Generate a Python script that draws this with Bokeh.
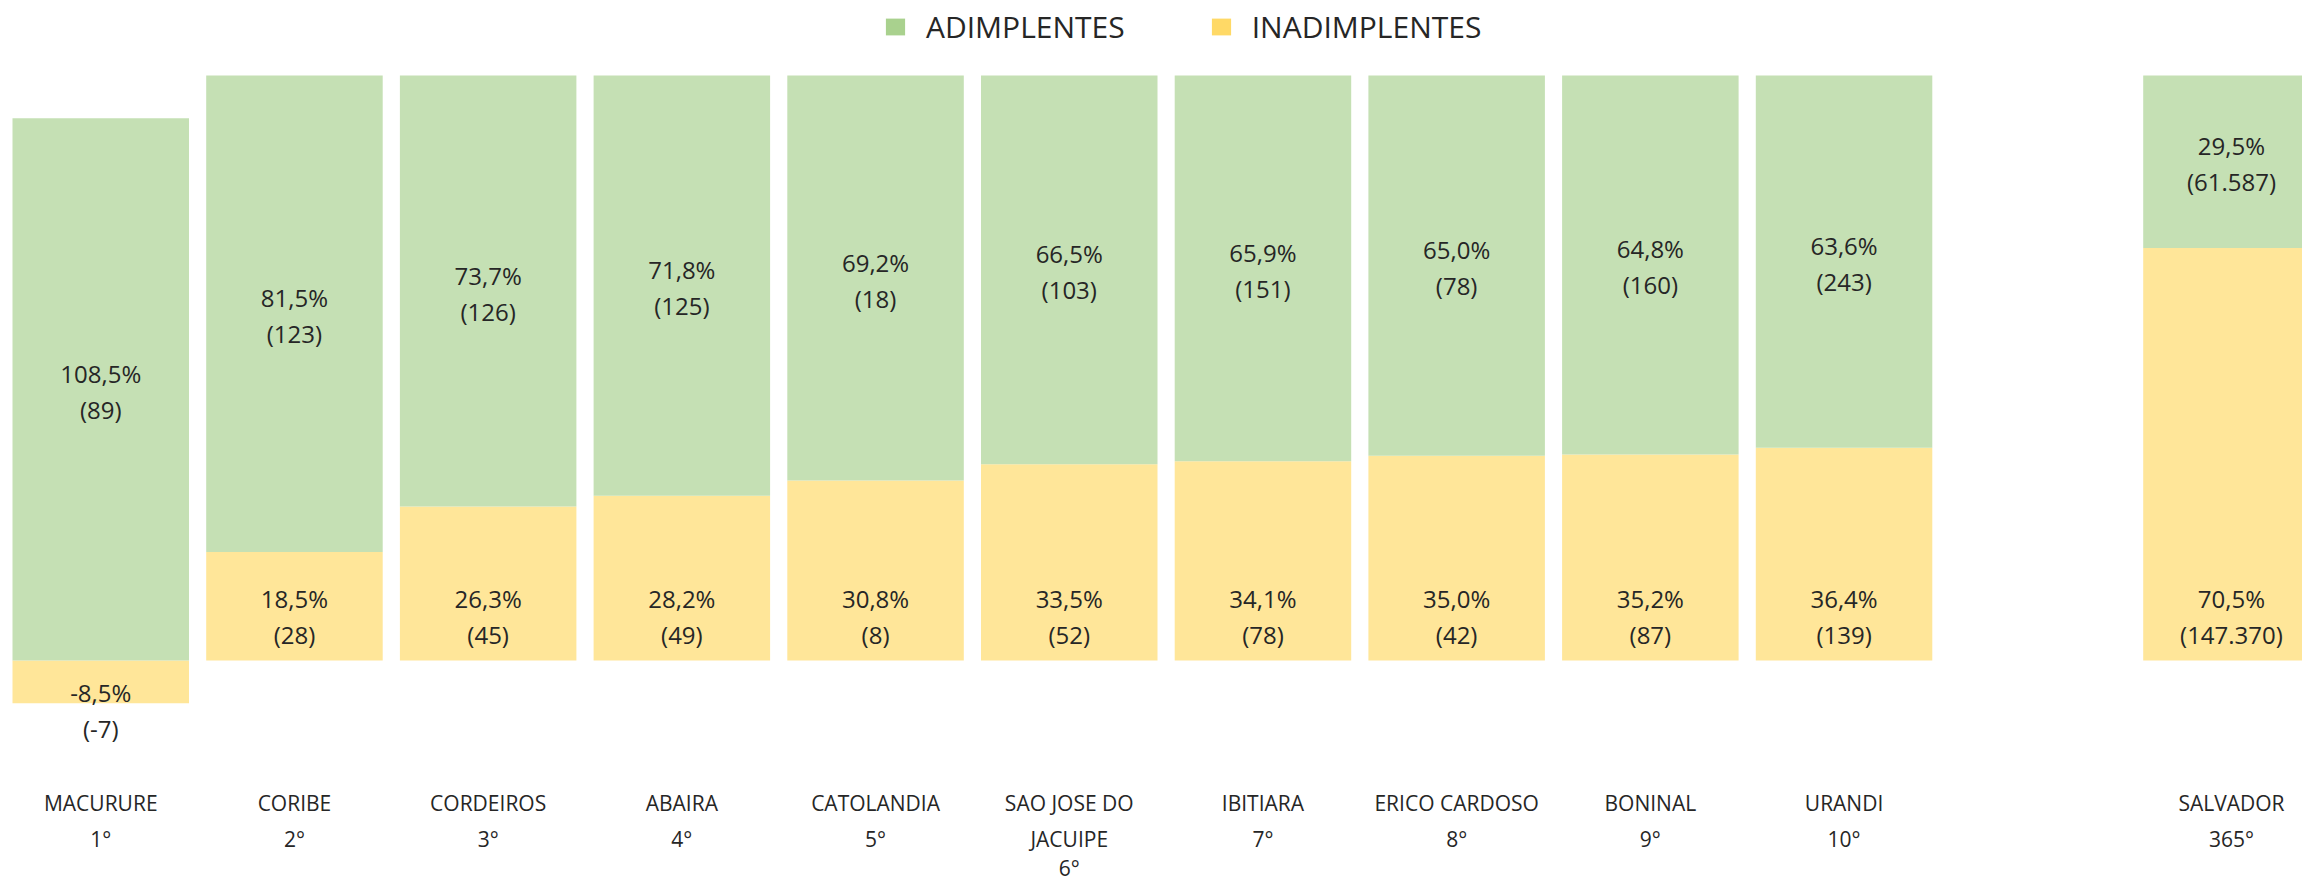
import textwrap
from bokeh.plotting import figure
from bokeh.models import ColumnDataSource, Range1d, Legend, LegendItem
from bokeh.core.properties import value
from bokeh.embed import file_html
from bokeh.resources import INLINE

# ---- data ----
categories = ["MACURURE", "CORIBE", "CORDEIROS", "ABAIRA", "CATOLANDIA",
              "SAO JOSE DO JACUIPE", "IBITIARA", "ERICO CARDOSO", "BONINAL",
              "URANDI", "SALVADOR"]
ranks = ["1°", "2°", "3°", "4°", "5°", "6°", "7°", "8°", "9°", "10°", "365°"]
adimplentes = [89, 123, 126, 125, 18, 103, 151, 78, 160, 243, 61587]
inadimplentes = [-7, 28, 45, 49, 8, 52, 78, 42, 87, 139, 147370]
adim_pct = [108.5, 81.5, 73.7, 71.8, 69.2, 66.5, 65.9, 65.0, 64.8, 63.6, 29.5]
inad_pct = [-8.5, 18.5, 26.3, 28.2, 30.8, 33.5, 34.1, 35.0, 35.2, 36.4, 70.5]

GREEN_BAR, YELLOW_BAR = "#C5E0B4", "#FFE699"
GREEN_LEG, YELLOW_LEG = "#A9D18E", "#FFD966"
TXT = "#262626"
FONT = "Open Sans"

# slot positions: ten top municipalities, one empty slot, then Salvador
xs = list(range(len(categories) - 1)) + [len(categories)]


def fmt_pct(v):
    return f"{v:.1f}".replace(".", ",") + "%"


def fmt_cnt(n):
    return "(" + f"{n:,}".replace(",", ".") + ")"


# Excel-like 100% stacking (shares of absolute values)
g_bot, g_top, y_top = [], [], []
for a, b in zip(adimplentes, inadimplentes):
    tot = abs(a) + abs(b)
    bs = b / tot
    gb = max(bs, 0.0)
    g_bot.append(gb)
    g_top.append(gb + a / tot)
    y_top.append(bs)

W = 2302
H = 883
PX_PER_SLOT = 193.7
PX_PER_UNIT = 585.0
BASE_Y = 660.0
x0 = -100.25 / PX_PER_SLOT
y_end = BASE_Y / PX_PER_UNIT
y_start = -(H - BASE_Y) / PX_PER_UNIT

p = figure(width=W, height=H, output_backend="svg", toolbar_location=None,
           x_axis_type=None, y_axis_type=None,
           x_range=Range1d(x0, x0 + W / PX_PER_SLOT),
           y_range=Range1d(y_start, y_end),
           min_border=0, min_border_left=0, min_border_right=0,
           min_border_top=0, min_border_bottom=0)
p.outline_line_color = None
p.background_fill_color = "white"
p.border_fill_color = "white"

bw = 176.5 / PX_PER_SLOT
src = ColumnDataSource(dict(x=xs, gb=g_bot, gt=g_top, yt=y_top,
                            zero=[0.0] * len(xs)))
p.vbar(x="x", bottom="zero", top="yt", width=bw, source=src,
       fill_color=YELLOW_BAR, line_color=None)
p.vbar(x="x", bottom="gb", top="gt", width=bw, source=src,
       fill_color=GREEN_BAR, line_color=None)

# ---- data labels ----
lx, ly, lt, lo = [], [], [], []
for x, gb, gt, a, b, ap, bp in zip(xs, g_bot, g_top, adimplentes,
                                   inadimplentes, adim_pct, inad_pct):
    gc = (gb + gt) / 2
    lx += [x, x]
    ly += [gc, gc]
    lt += [fmt_pct(ap), fmt_cnt(a)]
    lo += [-16, 20]
    base = -44 if b >= 0 else 50
    lx += [x, x]
    ly += [0.0, 0.0]
    lt += [fmt_pct(bp), fmt_cnt(b)]
    lo += [base - 18, base + 18]

lab = ColumnDataSource(dict(x=lx, y=ly, text=lt, yo=lo))
p.text(x="x", y="y", text="text", y_offset="yo", source=lab,
       text_font=value(FONT), text_font_size="24px", text_color=TXT,
       text_align="center", text_baseline="middle")

# ---- category labels (name wrapped + rank) ----
line_offsets = [142, 178, 207]
cx, cy, ct, co = [], [], [], []
for x, name, rk in zip(xs, categories, ranks):
    lines = textwrap.wrap(name, 13) + [rk]
    for k, line in enumerate(lines):
        cx.append(x)
        cy.append(0.0)
        ct.append(line)
        co.append(line_offsets[k])
cat = ColumnDataSource(dict(x=cx, y=cy, text=ct, yo=co))
p.text(x="x", y="y", text="text", y_offset="yo", source=cat,
       text_font=value(FONT), text_font_size="21px", text_color=TXT,
       text_align="center", text_baseline="middle")

# ---- legend (swatches use stronger colours than the bars) ----
rg = p.vbar(x="x", bottom="zero", top="zero", width=bw, source=src,
            fill_color=GREEN_LEG, line_color=None)
ry = p.vbar(x="x", bottom="zero", top="zero", width=bw, source=src,
            fill_color=YELLOW_LEG, line_color=None)
legend = Legend(items=[LegendItem(label="ADIMPLENTES", renderers=[rg]),
                       LegendItem(label="INADIMPLENTES", renderers=[ry])],
                orientation="horizontal", location=(883, 836),
                glyph_width=24, glyph_height=21, label_standoff=19,
                spacing=84, padding=0, margin=0,
                border_line_color=None, background_fill_alpha=0,
                label_text_font=FONT, label_text_font_size="30px",
                label_text_color=TXT)
p.add_layout(legend, "center")

open("out.html", "w").write(file_html(p, INLINE))
